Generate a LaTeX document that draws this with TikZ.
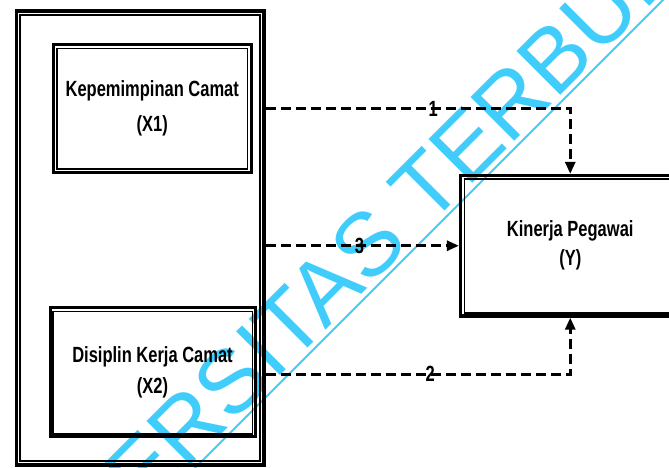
\documentclass[tikz,border=0pt]{standalone}
\usepackage{fontspec}
\setmainfont{Liberation Sans}
\newfontfamily\boxfont[FakeStretch=0.75]{Liberation Sans}
\usetikzlibrary{arrows.meta}
\definecolor{wmcol}{RGB}{64,205,252}
\begin{document}
\begin{tikzpicture}[x=1pt,y=1pt,
  boxtxt/.style={font=\boxfont\bfseries\fontsize{22}{#1}\selectfont, align=center},
  frame/.style={draw, line width=3pt, inner sep=0pt},
  innerline/.style={line width=1.8pt},
  dl/.style={line width=2.8pt, dash pattern=on 10pt off 5pt, -{Triangle[length=12pt,width=10pt]}},
  lbl/.style={font=\boxfont\bfseries\fontsize{22}{22}\selectfont, inner sep=0pt},
  wmtext/.style={text=wmcol, font=\fontsize{90}{90}\selectfont, inner sep=0pt}]
\useasboundingbox (0,0) rectangle (669,468);
% watermark (background)
\begin{scope}
  \clip (0,0) rectangle (669,468);
  \node[wmtext, rotate=45, anchor=base west] (wm) at (-9,-197) {UNIVERSITAS TERBUKA};
  \draw[wmcol, line width=2pt] (185,-10) -- (680,485);
\end{scope}
% outer frame
\node[frame, line width=3.5pt, minimum width=247.5pt, minimum height=454pt] (outer) at (140.25,230) {};
\draw[innerline, line width=2.2pt] ([shift={(5.5,-6)}]outer.north west) rectangle ([shift={(-5.5,5.5)}]outer.south east);
% X1
\node[frame, minimum width=197.5pt, minimum height=128pt, boxtxt=35] (X1) at (152.25,359.5) {Kepemimpinan Camat\\(X1)};
\draw[innerline] ([shift={(5,-5.5)}]X1.north west) rectangle ([shift={(-5,5)}]X1.south east);
% X2
\node[frame, minimum width=205pt, minimum height=129.5pt, boxtxt=31] (X2) at (152.5,95.75) {Disiplin Kerja Camat\\(X2)};
\draw[innerline] ([shift={(4.5,-5.5)}]X2.north west) rectangle ([shift={(-4,4.5)}]X2.south east);
% Y
\node[frame, line width=3.3pt, minimum width=219.5pt, minimum height=140.5pt, boxtxt=29] (Y) at (570.25,222.25) {Kinerja Pegawai\\(Y)};
\draw[innerline, line width=1.5pt] ([shift={(5.5,-5)}]Y.north west) rectangle ([shift={(-5.5,4.5)}]Y.south east);
% connectors
\draw[dl] (outer.east |- X1.east) -- node[lbl, pos=0.55] {1} (Y.north |- X1.east) -- (Y.north);
\draw[dl] ([yshift=-2pt]outer.east |- X2.east) -- node[lbl, pos=0.54] {2} ([yshift=-2pt]Y.south |- X2.east) -- (Y.south);
\draw[dl] (outer.east |- Y.west) -- node[lbl, pos=0.485] {3} (Y.west);
\end{tikzpicture}
\end{document}
